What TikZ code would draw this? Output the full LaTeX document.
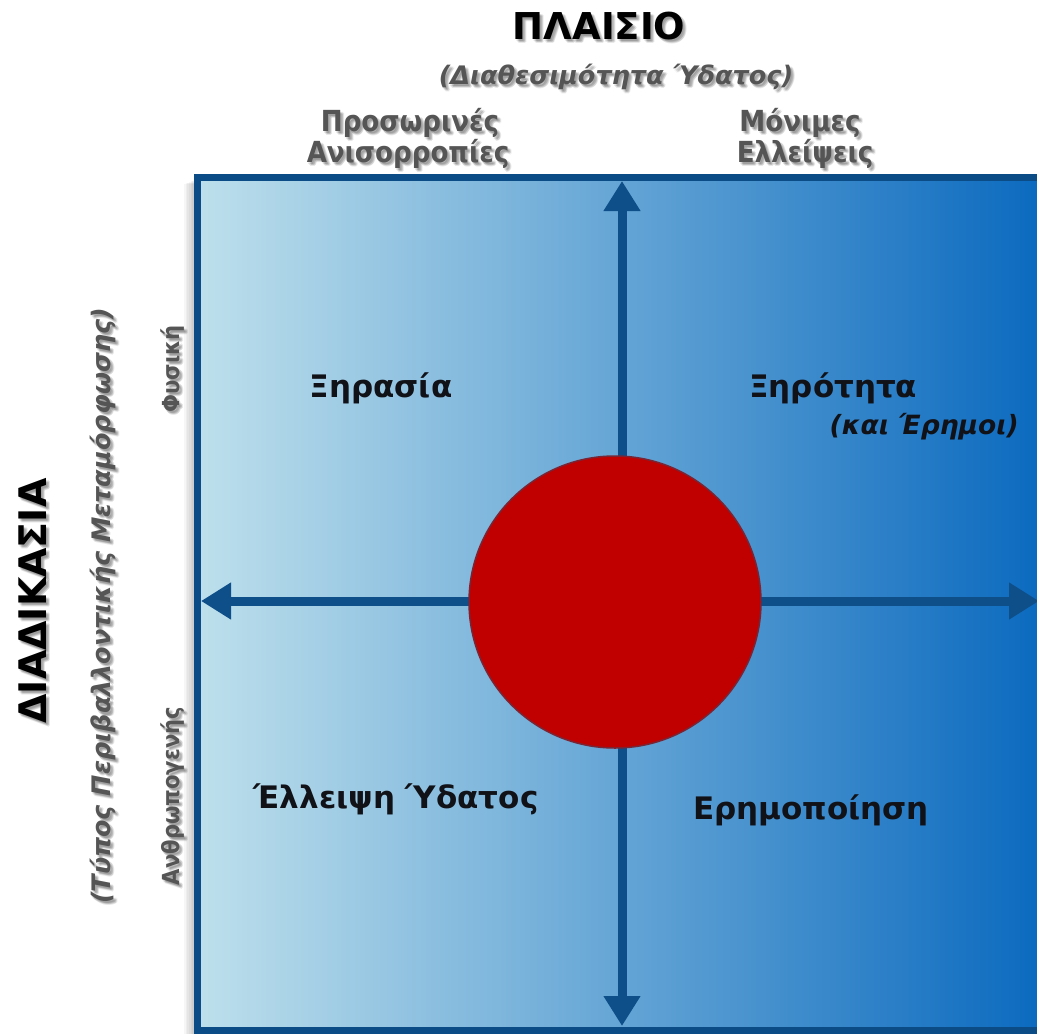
\documentclass[tikz,border=0pt]{standalone}
\usepackage{fontspec}
\setmainfont{DejaVu Sans}
\newfontfamily\condfont{DejaVu Sans Condensed}
\usetikzlibrary{arrows.meta,calc}
\definecolor{boxborder}{HTML}{0B4C86}
\definecolor{arrowblue}{HTML}{0E4E89}
\definecolor{lightbg}{HTML}{BEE0EC}
\definecolor{midbg}{HTML}{62AAD9}
\definecolor{darkbg}{HTML}{0868BE}
\definecolor{circred}{HTML}{C00000}
\definecolor{circline}{HTML}{7A2535}
\definecolor{headgray}{HTML}{555555}
\definecolor{labeltext}{HTML}{111118}
\newcommand\shtxt[4]{%
  \foreach \sdx/\sdy in {2/3,3/4,4/3,3/2,1/2}{\node[#2,text=black,opacity=0.09] at ($(#3)+(\sdx,\sdy)$) {#4};}
  \node[#2] (#1) at (#3) {#4};}
\tikzset{
  base/.style={inner sep=0pt, anchor=base},
  titletext/.style={base, font=\fontsize{37}{40}\selectfont\bfseries, text=black},
  proctext/.style={base, font=\fontsize{38}{40}\selectfont\bfseries, text=black, rotate=90},
  subtext/.style={base, font=\fontsize{25.5}{30}\selectfont\bfseries\itshape, text=headgray},
  headtext/.style={base, font=\condfont\fontsize{29}{33}\selectfont\bfseries, text=headgray},
  sidetext/.style={base, font=\condfont\fontsize{23.5}{28}\selectfont\bfseries, text=headgray, rotate=90},
  quadtext/.style={inner sep=0pt, font=\fontsize{31}{36}\selectfont\bfseries, text=labeltext},
  quaditalic/.style={inner sep=0pt, font=\fontsize{26.5}{30}\selectfont\bfseries\itshape, text=labeltext},
  axisarrow/.style={draw=arrowblue, line width=9pt, {Triangle[width=35pt,length=30pt]}-{Triangle[width=35pt,length=30pt]}},
}
\begin{document}
\begin{tikzpicture}[x=1pt,y=-1pt]
\useasboundingbox (0,0) rectangle (1037,1034);
% box shadow
\foreach \i in {1,...,8}{
  \fill[black,opacity=0.035] (197-1.6*\i,179+0.6*\i) rectangle (1060,1034);}
% box
\coordinate (boxNW) at (197,177);
\coordinate (boxSE) at (1055,1030);
\shade[left color=lightbg, middle color=midbg, right color=darkbg] (boxNW) rectangle (boxSE);
\draw[boxborder, line width=7pt] (boxNW) rectangle (boxSE);
% axes
\coordinate (vtop) at (622,181);
\coordinate (vbot) at (622,1026);
\coordinate (hleft) at (201,601);
\coordinate (hright) at (1039,601);
\draw[axisarrow] (vbot) -- (vtop);
\draw[axisarrow] (hleft) -- (hright);
% circle
\node[circle, fill=circred, draw=circline, line width=1.5pt, minimum size=292pt, inner sep=0pt] (core) at (615,602) {};
% headings
\shtxt{title}{titletext}{599,39}{ΠΛΑΙΣΙΟ}
\shtxt{sub}{subtext}{616,84}{(Διαθεσιμότητα Ύδατος)}
\shtxt{tempA}{headtext}{410,131}{Προσωρινές}
\shtxt{tempB}{headtext}{408,162}{Ανισορροπίες}
\shtxt{permA}{headtext}{800,131}{Μόνιμες}
\shtxt{permB}{headtext}{805,162}{Ελλείψεις}
\shtxt{proc}{proctext}{46,601}{ΔΙΑΔΙΚΑΣΙΑ}
\shtxt{procsub}{subtext,rotate=90}{110,606}{(Τύπος Περιβαλλοντικής Μεταμόρφωσης)}
\shtxt{nat}{sidetext}{179,369}{Φυσική}
\shtxt{anth}{sidetext}{179,796}{Ανθρωπογενής}
% quadrant labels
\node[quadtext, anchor=base] (drought) at (381,397) {Ξηρασία};
\node[quadtext, anchor=base west] (arid) at (749,397) {Ξηρότητα};
\node[quaditalic, anchor=base east] (deserts) at (1019,434) {(και Έρημοι)};
\node[quadtext, anchor=base] (scarcity) at (396,808) {Έλλειψη Ύδατος};
\node[quadtext, anchor=base] (desert) at (811,819) {Ερημοποίηση};
\end{tikzpicture}
\end{document}
